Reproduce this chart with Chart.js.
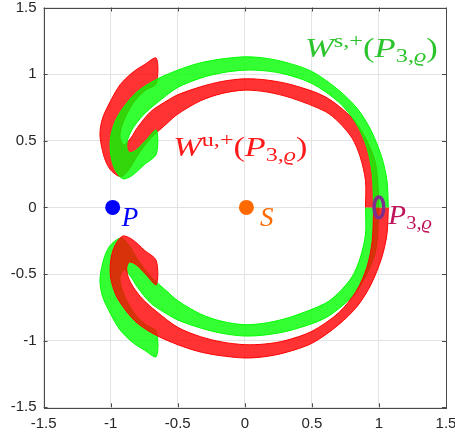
<!DOCTYPE html>
<html>
<head>
<meta charset="utf-8">
<script src="https://cdn.jsdelivr.net/npm/chart.js@4.4.1/dist/chart.umd.min.js"></script>
<style>
  html, body { margin: 0; padding: 0; background: #fff; overflow: hidden; }
  canvas { display: block; }
</style>
</head>
<body>
<canvas id="canvas" width="455" height="438"></canvas>
<script>
// axis ticks
const tickValues = [-1.5, -1, -0.5, 0, 0.5, 1, 1.5];
const tickLabels = ['-1.5', '-1', '-0.5', '0', '0.5', '1', '1.5'];

// band outlines (one side out to the hook end, the other side back)
const wuUpper = [[0.9,0.0],[0.9,0.2],[0.86,0.38],[0.8,0.52],[0.7,0.64],[0.6,0.72],[0.35,0.82],[0.17,0.865],[0.0,0.88],
  [-0.17,0.855],[-0.33,0.8],[-0.5,0.7],[-0.58,0.63],[-0.7,0.52],[-0.8,0.39],[-0.86,0.29],[-0.92,0.23],
  [-0.99,0.27],[-1.03,0.33],[-1.06,0.42],[-1.08,0.55],[-1.06,0.67],[-1.0,0.8],[-0.93,0.92],[-0.84,1.01],[-0.75,1.07],
  [-0.66,1.12],[-0.66,0.93],[-0.74,0.88],[-0.82,0.8],[-0.88,0.7],[-0.92,0.6],[-0.93,0.52],[-0.9,0.47],[-0.85,0.52],
  [-0.8,0.6],[-0.7,0.72],[-0.58,0.8],[-0.5,0.845],[-0.33,0.905],[-0.17,0.945],[0.0,0.965],[0.17,0.955],[0.35,0.92],
  [0.6,0.83],[0.8,0.67],[0.9,0.52],[0.97,0.35],[0.99,0.2],[1.0,0.0]];
const wsUpper = [[1.07,0.0],[1.06,0.2],[1.02,0.38],[0.94,0.58],[0.84,0.74],[0.7,0.88],[0.5,1.02],[0.3,1.09],
  [0.15,1.12],[0.0,1.13],[-0.2,1.11],[-0.35,1.08],[-0.5,1.03],[-0.66,0.96],[-0.8,0.87],[-0.89,0.77],[-0.96,0.66],
  [-1.0,0.53],[-1.0,0.4],[-0.97,0.29],[-0.91,0.215],[-0.84,0.24],[-0.75,0.32],[-0.66,0.4],
  [-0.66,0.58],[-0.74,0.5],[-0.81,0.43],[-0.86,0.41],[-0.88,0.45],[-0.87,0.52],[-0.83,0.6],[-0.76,0.69],
  [-0.66,0.78],[-0.5,0.9],[-0.33,0.97],[-0.17,1.01],[0.0,1.03],[0.15,1.025],[0.3,1.0],[0.5,0.93],[0.7,0.79],[0.83,0.63],
  [0.91,0.45],[0.95,0.25],[0.96,0.0]];
const wsLower = [[0.9,0.0],[0.9,-0.2],[0.86,-0.38],[0.8,-0.52],[0.7,-0.64],[0.6,-0.72],[0.35,-0.82],[0.17,-0.865],[0.0,-0.88],
  [-0.17,-0.855],[-0.33,-0.8],[-0.5,-0.7],[-0.58,-0.63],[-0.7,-0.52],[-0.8,-0.39],[-0.86,-0.29],[-0.92,-0.23],
  [-0.99,-0.27],[-1.03,-0.33],[-1.06,-0.42],[-1.08,-0.55],[-1.06,-0.67],[-1.0,-0.8],[-0.93,-0.92],[-0.84,-1.01],[-0.75,-1.07],
  [-0.66,-1.12],[-0.66,-0.93],[-0.74,-0.88],[-0.82,-0.8],[-0.88,-0.7],[-0.92,-0.6],[-0.93,-0.52],[-0.9,-0.47],[-0.85,-0.52],
  [-0.8,-0.6],[-0.7,-0.72],[-0.58,-0.8],[-0.5,-0.845],[-0.33,-0.905],[-0.17,-0.945],[0.0,-0.965],[0.17,-0.955],[0.35,-0.92],
  [0.6,-0.83],[0.8,-0.67],[0.9,-0.52],[0.97,-0.35],[0.99,-0.2],[1.0,0.0]];
const wuLower = [[1.07,0.0],[1.06,-0.2],[1.02,-0.38],[0.94,-0.58],[0.84,-0.74],[0.7,-0.88],[0.5,-1.02],[0.3,-1.09],
  [0.15,-1.12],[0.0,-1.13],[-0.2,-1.11],[-0.35,-1.08],[-0.5,-1.03],[-0.66,-0.96],[-0.8,-0.87],[-0.89,-0.77],[-0.96,-0.66],
  [-1.0,-0.53],[-1.0,-0.4],[-0.97,-0.29],[-0.91,-0.215],[-0.84,-0.24],[-0.75,-0.32],[-0.66,-0.4],
  [-0.66,-0.58],[-0.74,-0.5],[-0.81,-0.43],[-0.86,-0.41],[-0.88,-0.45],[-0.87,-0.52],[-0.83,-0.6],[-0.76,-0.69],
  [-0.66,-0.78],[-0.5,-0.9],[-0.33,-0.97],[-0.17,-1.01],[0.0,-1.03],[0.15,-1.025],[0.3,-1.0],[0.5,-0.93],[0.7,-0.79],[0.83,-0.63],
  [0.91,-0.45],[0.95,-0.25],[0.96,0.0]];

// small periodic orbit around P3
const orbitP3 = [[1.036,0],[1.031,0.039],[1.018,0.068],[1.0,0.078],[0.982,0.068],[0.969,0.039],[0.964,0],
  [0.969,-0.039],[0.982,-0.068],[1.0,-0.078],[1.018,-0.068],[1.031,-0.039],[1.036,0]];

// primaries
const pointP = [-0.985, 0];
const pointS = [0.012, 0];

// labels: text pieces, anchor (data coords of left end of baseline), width in data units
const labelWs = [['W','i'],['s,+','sup'],['(','r'],['P','i'],['3,','sub'],['ϱ','subi'],[')','r']];
const labelWu = [['W','i'],['u,+','sup'],['(','r'],['P','i'],['3,','sub'],['ϱ','subi'],[')','r']];
const labelP3 = [['P','i'],['3,','sub'],['ϱ','subi']];
const labelP = [['P','i']];
const labelS = [['S','i']];
const labelAnchors = [[0.449, 1.126], [-0.533, 0.386], [1.07, -0.124], [-0.918, -0.136], [0.113, -0.136]];
const labelWidths = [0.99, 1.0, 0.325, 0, 0];

const toPts = arr => arr.map(p => ({x: p[0], y: p[1]}));

// order: lower numbers are painted last (on top)
function band(arr, color, fillColor, order) {
  return {
    data: toPts(arr), showLine: true, borderColor: color, borderWidth: 1,
    backgroundColor: fillColor, fill: 'shape', tension: 0.3, pointRadius: 0, order: order
  };
}

const RED = '#ff0000', GREEN = '#00ff00';

const mathLabels = {
  id: 'mathLabels',
  afterDatasetsDraw(chart) {
    const ctx = chart.ctx, xs = chart.scales.x, ys = chart.scales.y;
    const size = 27, small = 19;
    const fonts = {
      i: 'italic ' + size + 'px "Liberation Serif"',
      r: size + 'px "Liberation Serif"',
      sup: small + 'px "Liberation Serif"',
      sub: small + 'px "Liberation Serif"',
      subi: 'italic ' + small + 'px "Liberation Serif"'
    };
    const shift = {i: 0, r: 0, sup: -10, sub: 5, subi: 5};
    const items = [
      [labelWs, '#2cc42c'], [labelWu, '#ff1a1a'], [labelP3, '#c0145a'], [labelP, '#0000ff'], [labelS, '#ff6a00']
    ];
    items.forEach((it, k) => {
      const parts = it[0];
      const x0 = xs.getPixelForValue(labelAnchors[k][0]);
      const y0 = ys.getPixelForValue(labelAnchors[k][1]);
      let w = 0;
      parts.forEach(p => { ctx.font = fonts[p[1]]; w += ctx.measureText(p[0]).width; });
      let sx = 1;
      if (labelWidths[k] > 0) {
        const target = xs.getPixelForValue(labelAnchors[k][0] + labelWidths[k]) - x0;
        sx = target / w;
      }
      ctx.save();
      ctx.translate(x0, y0);
      ctx.scale(sx, 1);
      ctx.fillStyle = it[1];
      ctx.textBaseline = 'alphabetic';
      let x = 0;
      parts.forEach(p => {
        ctx.font = fonts[p[1]];
        ctx.fillText(p[0], x, shift[p[1]]);
        x += ctx.measureText(p[0]).width;
      });
      ctx.restore();
    });
  }
};

const boxTicks = {
  id: 'boxTicks',
  afterDraw(chart) {
    const ctx = chart.ctx, a = chart.chartArea, xs = chart.scales.x, ys = chart.scales.y;
    ctx.save();
    ctx.strokeStyle = '#4a4a4a';
    ctx.lineWidth = 1;
    ctx.beginPath();
    tickValues.forEach(v => {
      const px = Math.round(xs.getPixelForValue(v)) + 0.5;
      const py = Math.round(ys.getPixelForValue(v)) + 0.5;
      ctx.moveTo(px, a.bottom); ctx.lineTo(px, a.bottom - 4);
      ctx.moveTo(px, a.top); ctx.lineTo(px, a.top + 4);
      ctx.moveTo(a.left, py); ctx.lineTo(a.left + 4, py);
      ctx.moveTo(a.right, py); ctx.lineTo(a.right - 4, py);
    });
    ctx.stroke();
    ctx.strokeRect(Math.round(a.left) + 0.5, Math.round(a.top) + 0.5,
      Math.round(a.right - a.left), Math.round(a.bottom - a.top));
    ctx.restore();
  }
};

const axisOpts = (isX) => ({
  type: 'linear', min: -1.5, max: 1.5,
  afterBuildTicks: s => { s.ticks = tickValues.map(v => ({value: v})); },
  afterFit: s => {
    if (isX) { s.height = 30.7; s.paddingLeft = 0; s.paddingRight = 0; }
    else { s.width = 43.6; s.paddingTop = 0; s.paddingBottom = 0; }
  },
  grid: { color: '#e3e3e3', drawTicks: false },
  border: { display: false },
  ticks: {
    color: '#262626', padding: isX ? 8 : 7,
    font: { family: '"Liberation Sans", Arial, sans-serif', size: 15 },
    callback: v => tickLabels[tickValues.indexOf(v)]
  }
});

new Chart(document.getElementById('canvas'), {
  type: 'scatter',
  data: {
    datasets: [
      band(wuUpper, RED, 'rgba(255,0,0,0.8)', 3),
      band(wsLower, GREEN, 'rgba(0,255,0,0.8)', 3),
      band(wsUpper, GREEN, 'rgba(0,255,0,0.8)', 2),
      band(wuLower, RED, 'rgba(255,0,0,0.8)', 2),
      { data: toPts(orbitP3), showLine: true, borderColor: '#7e2f8e', borderWidth: 3.5, tension: 0.5, pointRadius: 0, fill: false, order: 0 },
      { data: [{x: pointP[0], y: pointP[1]}], pointRadius: 7.5, backgroundColor: '#0000ff', borderWidth: 0, order: 0 },
      { data: [{x: pointS[0], y: pointS[1]}], pointRadius: 7.5, backgroundColor: '#ff6a00', borderWidth: 0, order: 0 }
    ]
  },
  options: {
    responsive: false,
    animation: false,
    layout: { padding: { top: 5.7, right: 9, left: 0, bottom: 0 } },
    plugins: { legend: { display: false }, tooltip: { enabled: false } },
    scales: { x: axisOpts(true), y: axisOpts(false) }
  },
  plugins: [mathLabels, boxTicks]
});
</script>
</body>
</html>
